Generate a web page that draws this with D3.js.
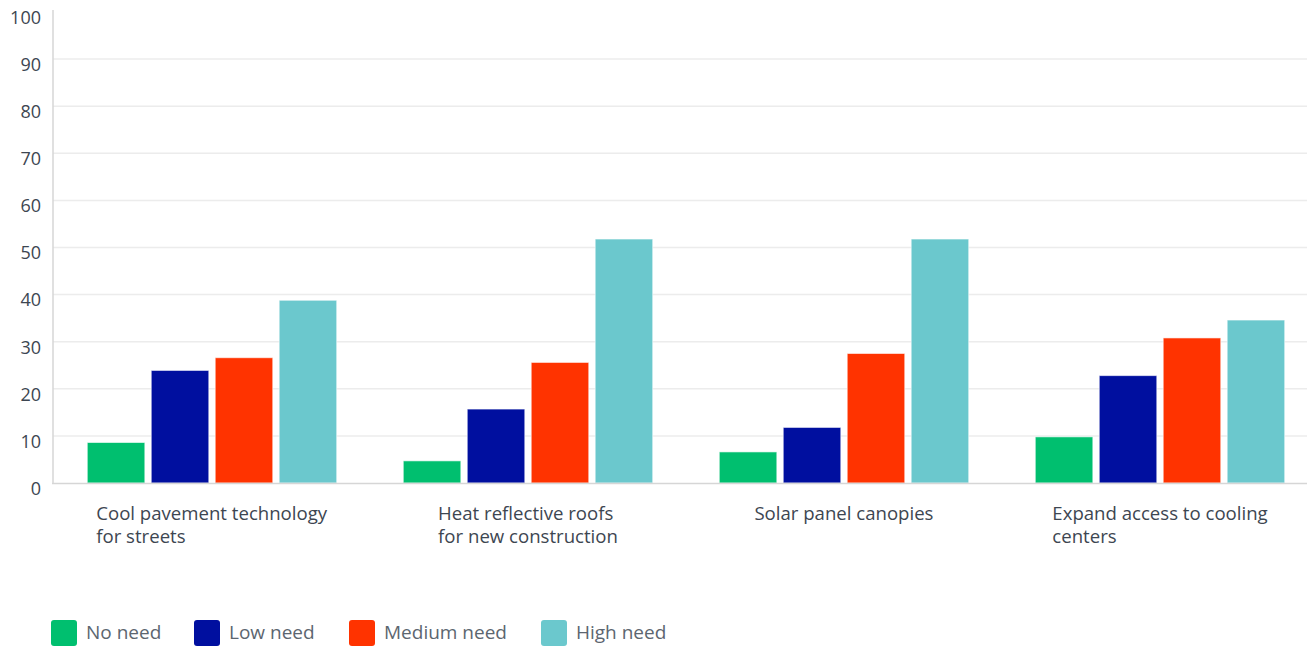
<!DOCTYPE html>
<html>
<head>
<meta charset="utf-8">
<script src="https://cdn.jsdelivr.net/npm/d3@7"></script>
<style>
  html, body { margin: 0; padding: 0; background: #fff; }
  svg { display: block; }
  text { font-family: "Open Sans", "Noto Sans", sans-serif; }
</style>
</head>
<body>
<svg id="chart" width="1314" height="648"></svg>
<script>
// Survey responses: level of need per heat-mitigation measure (percent)
const categories = [
  ["Cool pavement technology", "for streets"],
  ["Heat reflective roofs", "for new construction"],
  ["Solar panel canopies"],
  ["Expand access to cooling", "centers"]
];
const seriesNames = ["No need", "Low need", "Medium need", "High need"];
const noNeed     = [8.6, 4.7, 6.6, 9.8];
const lowNeed    = [23.9, 15.7, 11.8, 22.8];
const mediumNeed = [26.6, 25.6, 27.5, 30.8];
const highNeed   = [38.8, 51.8, 51.8, 34.6];
const yTicks = [0, 10, 20, 30, 40, 50, 60, 70, 80, 90, 100];
const colors = ["#00bf6f", "#000f9f", "#ff3300", "#6bc8cd"];

const series = [noNeed, lowNeed, mediumNeed, highNeed];
const svg = d3.select("#chart");

// one band per category, bars packed inside each band
const x = d3.scaleBand()
  .domain(d3.range(categories.length))
  .range([54, 1318]);
const x1 = d3.scaleBand()
  .domain(d3.range(seriesNames.length))
  .range([0, x.bandwidth()])
  .paddingInner(0.1)
  .paddingOuter(0.52);

const y = d3.scaleLinear().domain([0, 100]).range([483, 12]);

// horizontal grid
svg.append("g")
  .selectAll("line")
  .data(yTicks.filter(t => t > 0 && t < 100))
  .join("line")
  .attr("x1", 53).attr("x2", 1307)
  .attr("y1", d => y(d)).attr("y2", d => y(d))
  .attr("stroke", "#ececec").attr("stroke-width", 1.5);

// y tick labels
svg.append("g")
  .selectAll("text")
  .data(yTicks)
  .join("text")
  .attr("x", 41)
  .attr("y", d => y(d) + 7)
  .attr("text-anchor", "end")
  .attr("dominant-baseline", "middle")
  .attr("font-size", 18)
  .attr("fill", "#3d4651")
  .text(d => d);

// bars
const groups = svg.append("g")
  .selectAll("g")
  .data(categories.map((c, i) => i))
  .join("g")
  .attr("transform", i => `translate(${x(i)},0)`);

groups.selectAll("rect")
  .data(i => series.map((s, k) => ({ k, v: s[i] })))
  .join("rect")
  .attr("x", d => x1(d.k))
  .attr("width", x1.bandwidth())
  .attr("y", d => y(d.v))
  .attr("height", d => y(0) - y(d.v))
  .attr("fill", d => colors[d.k])
  .attr("stroke", "rgba(255,255,255,0.6)")
  .attr("stroke-width", 1);

// axis lines
svg.append("line")
  .attr("x1", 53).attr("x2", 53).attr("y1", 10).attr("y2", 484)
  .attr("stroke", "#d6d6d6").attr("stroke-width", 1.5);
svg.append("line")
  .attr("x1", 52).attr("x2", 1307).attr("y1", 483.5).attr("y2", 483.5)
  .attr("stroke", "#d6d6d6").attr("stroke-width", 1.5);

// category labels: block centred under group, lines left-aligned
const labelG = svg.append("g");
categories.forEach((lines, i) => {
  const cx = x(i) + x.bandwidth() / 2;
  const t = labelG.append("text")
    .attr("font-size", 18.6)
    .attr("fill", "#3d4651");
  lines.forEach((ln, j) => {
    t.append("tspan").attr("x", 0).attr("y", 520 + j * 23).text(ln);
  });
  const w = t.node().getBBox().width;
  t.attr("transform", `translate(${cx - w / 2},0)`);
});

// legend
const legend = svg.append("g");
const legendX = [51, 194, 349, 541];
seriesNames.forEach((name, k) => {
  const g = legend.append("g").attr("transform", `translate(${legendX[k]},620)`);
  g.append("rect").attr("width", 26).attr("height", 26).attr("rx", 3)
    .attr("fill", colors[k]);
  g.append("text").attr("x", 35).attr("y", 14)
    .attr("dominant-baseline", "middle")
    .attr("font-size", 19)
    .attr("fill", "#5c6670")
    .text(name);
});
</script>
</body>
</html>
